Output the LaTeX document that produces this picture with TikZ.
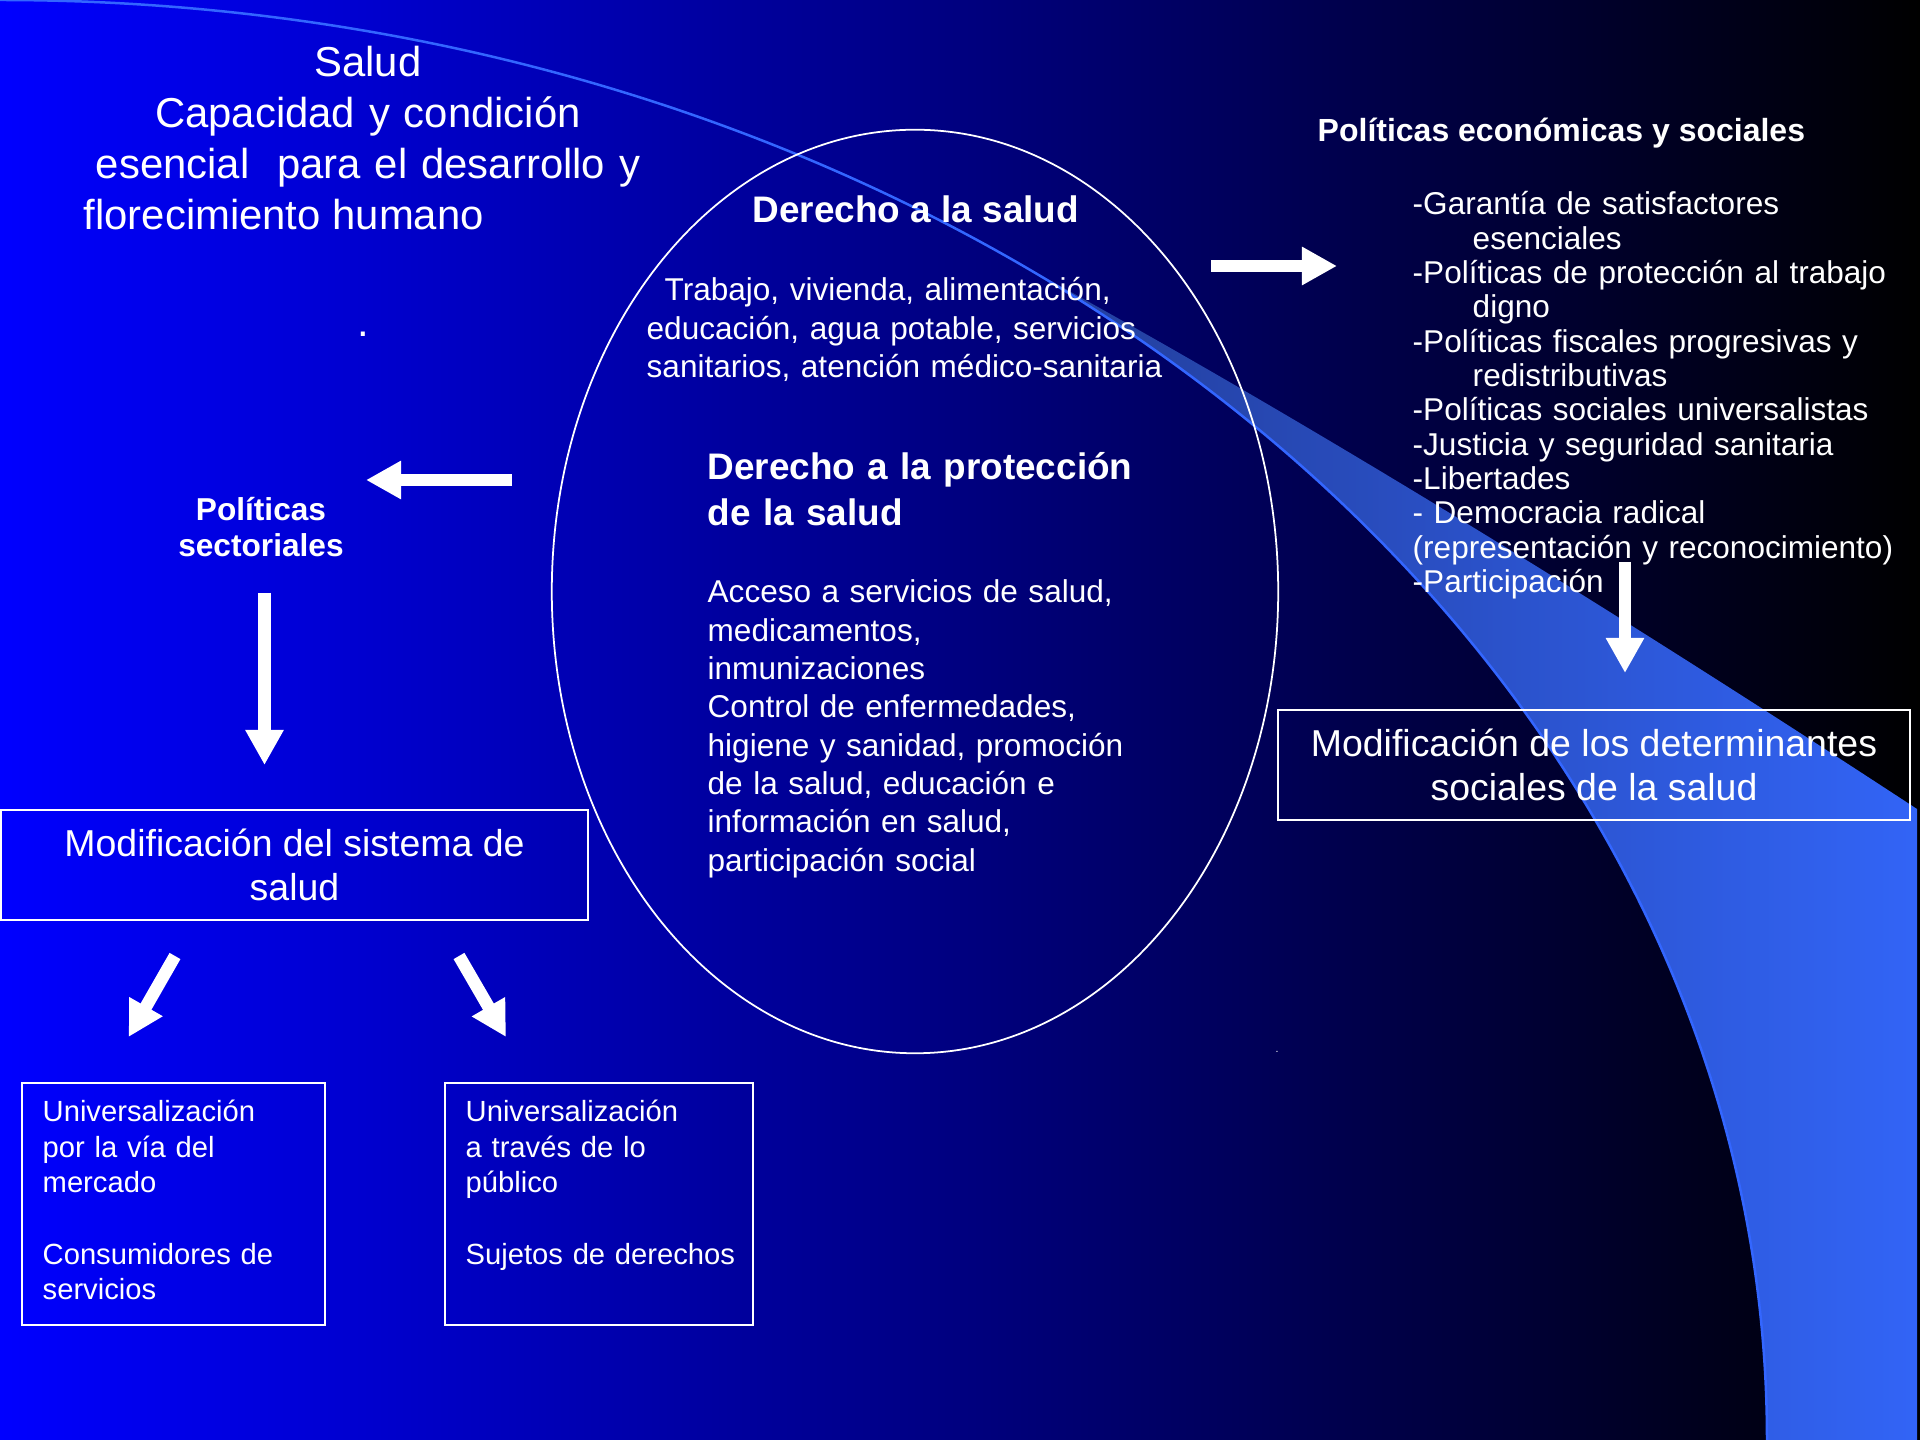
\documentclass[tikz,border=0pt]{standalone}
\usepackage{fontspec}
\setmainfont{Liberation Sans}
\usetikzlibrary{arrows.meta,calc,positioning}
\definecolor{fondomid}{RGB}{0,0,140}
\definecolor{bandizq}{RGB}{34,60,150}
\definecolor{bandder}{RGB}{50,100,246}
\definecolor{bandlinea}{RGB}{51,102,255}

\begin{document}
\begin{tikzpicture}[x=0.01cm,y=-0.01cm,
  txt/.style={text=white,inner sep=0pt},
  ttl/.style={txt,font=\fontsize{11.9}{14.5}\selectfont},
  head/.style={txt,font=\bfseries\fontsize{10.5}{12.8}\selectfont},
  body/.style={txt,font=\fontsize{8.97}{10.9}\selectfont},
  lista/.style={txt,font=\fontsize{8.97}{9.76}\selectfont},
  modif/.style={txt,draw=white,line width=0.55pt,font=\fontsize{10.65}{12.6}\selectfont,align=center},
  ubox/.style={draw=white,line width=0.55pt,inner sep=0pt},
  utxt/.style={txt,font=\fontsize{8.3}{10}\selectfont},
  barrow/.style={white,line width=0.125cm,-{Triangle[length=0.35cm,width=0.36cm]}}]
\useasboundingbox (0,0) rectangle (1920,1440);
\shade[left color=blue,middle color=fondomid,right color=black] (0,0) rectangle (1920,1440);
\begin{scope}
  \clip (1000,253) .. controls (1267,398) and (1572,583) .. (1917,809) -- (1917,1440) -- (1000,1440) -- cycle;
  \clip (0,0) .. controls (976,0) and (1767,645) .. (1767,1440) -- (1917,1440) -- (1917,0) -- cycle;
  \shade[left color=bandizq,right color=bandder] (1000,250) rectangle (1917,1440);
\end{scope}
\draw[bandlinea,line width=0.025cm] (0,0) .. controls (976,0) and (1767,645) .. (1767,1440);
\draw[white,line width=0.5pt] (915,591.5) ellipse [x radius=3.63cm,y radius=4.615cm];

\node[ttl,anchor=base,text width=6cm,align=center] (salud) at (368,77) {Salud\\Capacidad y condición\\esencial\ \ para el desarrollo y};
\node[ttl,anchor=base west] (flor) at (83,230) {florecimiento humano};
\node[ttl,anchor=base] (punto) at (363,337) {.};

\node[head,anchor=base west] (dsalud) at (752,223) {Derecho a la salud};
\node[body,anchor=base west,text width=6cm,align=left] (trabajo) at (646,301) {\hspace*{0.18cm}Trabajo, vivienda, alimentación,\\educación, agua potable, servicios\\sanitarios, atención médico-sanitaria};
\node[head,anchor=base west,text width=5cm,align=left] (dprot) at (707,480) {Derecho a la protección\\de la salud};
\node[body,anchor=base west,text width=5cm,align=left] (acceso) at (707,603) {Acceso a servicios de salud,\\medicamentos,\\inmunizaciones\\Control de enfermedades,\\higiene y sanidad, promoción\\de la salud, educación e\\información en salud,\\participación social};
\node[txt,font=\fontsize{3}{3}\selectfont] (punto2) at (1277,1052) {.};

\node[txt,font=\bfseries\fontsize{9.1}{10.9}\selectfont,anchor=base west] (polec) at (1317,142) {Políticas económicas y sociales};
\node[lista,anchor=base west,text width=5.3cm,align=left] (medidas) at (1412,215) {-Garantía de satisfactores\\\hspace*{0.6cm}esenciales\\-Políticas de protección al trabajo\\\hspace*{0.6cm}digno\\-Políticas fiscales progresivas y\\\hspace*{0.6cm}redistributivas\\-Políticas sociales universalistas\\-Justicia y seguridad sanitaria\\-Libertades\\- Democracia radical\\(representación y reconocimiento)\\-Participación};
\coordinate (d1) at (1211,266);
\coordinate (d2) at (1337,266);
\draw[barrow] (d1)--(d2);
\coordinate (d3) at (1625,562);
\coordinate (d4) at (1625,673);
\draw[barrow] (d3)--(d4);
\node[modif,minimum width=6.32cm,minimum height=1.1cm] (determ) at (1594,765) {Modificación de los determinantes\\sociales de la salud};

\coordinate (i1) at (512,480);
\coordinate (i2) at (366,480);
\draw[barrow] (i1)--(i2);
\node[txt,font=\bfseries\fontsize{9}{10}\selectfont,anchor=base,text width=3cm,align=center] (psect) at (261,521) {Políticas\\sectoriales};
\coordinate (i3) at (264.5,593);
\coordinate (i4) at (264.5,765);
\draw[barrow] (i3)--(i4);
\node[modif,minimum width=5.87cm,minimum height=1.1cm] (sistema) at (294.5,865) {Modificación del sistema de\\salud};

\coordinate (m1) at (175,956);
\coordinate (m2) at (128.6,1037);
\draw[barrow] (m1)--(m2);
\coordinate (p1) at (459,956);
\coordinate (p2) at (506,1037);
\draw[barrow] (p1)--(p2);
\node[ubox,minimum width=3.03cm,minimum height=2.42cm] (mercado) at (173.5,1204) {};
\node[ubox,minimum width=3.08cm,minimum height=2.42cm] (publico) at (599,1204) {};
\node[utxt,anchor=base west,text width=2.7cm,align=left] (mercadot) at (42,1122) {Universalización\\por la vía del\\mercado\\[0.37cm]Consumidores de\\servicios};
\node[utxt,anchor=base west,text width=2.8cm,align=left] (publicot) at (465,1122) {Universalización\\a través de lo\\público\\[0.37cm]Sujetos de derechos};
\end{tikzpicture}
\end{document}
